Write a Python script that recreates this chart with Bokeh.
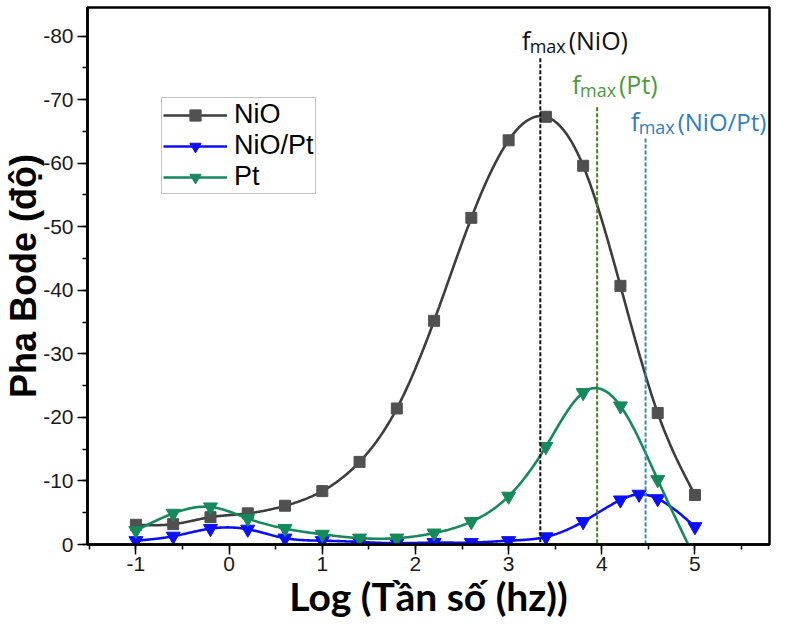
import numpy as np
from bokeh.plotting import figure
from bokeh.models import Range1d, FixedTicker, Label, Legend, LegendItem
from bokeh.embed import file_html
from bokeh.resources import INLINE

# ---------------- data ----------------
nio_x = [-1.0, -0.6, -0.2, 0.2, 0.6, 1.0, 1.4, 1.8, 2.2, 2.6, 3.0, 3.4, 3.8, 4.2, 4.6, 5.0]
nio_y = [-3.1, -3.2, -4.3, -4.9, -6.1, -8.4, -13.0, -21.4, -35.2, -51.4, -63.6, -67.3, -59.6, -40.7, -20.7, -7.8]

niopt_x = [-1.0, -0.6, -0.2, 0.2, 0.6, 1.0, 1.4, 1.8, 2.2, 2.6, 3.0, 3.4, 3.8, 4.2, 4.4, 4.6, 5.0]
niopt_y = [-0.6, -1.3, -2.5, -2.4, -1.0, -0.6, -0.4, -0.2, -0.3, -0.3, -0.6, -1.2, -3.6, -7.0, -7.9, -7.2, -2.8]

pt_x = [-1.0, -0.6, -0.2, 0.2, 0.6, 1.0, 1.4, 1.8, 2.2, 2.6, 3.0, 3.4, 3.8, 4.2, 4.6, 5.0]
pt_y = [-2.2, -4.9, -5.9, -4.1, -2.5, -1.6, -1.0, -1.0, -1.8, -3.6, -7.6, -15.4, -23.9, -21.8, -10.2, 2.2]

series_names = ["NiO", "NiO/Pt", "Pt"]

x_ticks = [-1, 0, 1, 2, 3, 4, 5]
x_tick_labels = ["-1", "0", "1", "2", "3", "4", "5"]
y_ticks = [0, -10, -20, -30, -40, -50, -60, -70, -80]
y_tick_labels = ["0", "-10", "-20", "-30", "-40", "-50", "-60", "-70", "-80"]

# f_max markers
fmax_names = ["(NiO)", "(Pt)", "(NiO/Pt)"]
fmax_x = [3.34, 3.95, 4.47]
fmax_top = [-76.5, -68.8, -63.9]
fmax_text_y = [-79.4, -72.4, -66.6]
fmax_text_x = [3.14, 3.68, 4.31]
fmax_name_sizes = ["25px", "25px", "24px"]
fmax_colors = ["#111111", "#4e9a3c", "#2f7fbf"]
fmax_line_colors = ["#111111", "#4f7a22", "#3b86bd"]


def natural_spline(x, y, n=600):
    x = np.asarray(x, float)
    y = np.asarray(y, float)
    m = len(x)
    h = np.diff(x)
    A = np.zeros((m, m))
    b = np.zeros(m)
    A[0, 0] = 1.0
    A[-1, -1] = 1.0
    for i in range(1, m - 1):
        A[i, i - 1] = h[i - 1]
        A[i, i] = 2 * (h[i - 1] + h[i])
        A[i, i + 1] = h[i]
        b[i] = 3 * ((y[i + 1] - y[i]) / h[i] - (y[i] - y[i - 1]) / h[i - 1])
    c = np.linalg.solve(A, b)
    bb = (y[1:] - y[:-1]) / h - h * (2 * c[:-1] + c[1:]) / 3
    d = (c[1:] - c[:-1]) / (3 * h)
    xs = np.linspace(x[0], x[-1], n)
    idx = np.clip(np.searchsorted(x, xs, side="right") - 1, 0, m - 2)
    dx = xs - x[idx]
    ys = y[idx] + bb[idx] * dx + c[idx] * dx ** 2 + d[idx] * dx ** 3
    return xs, ys


p = figure(width=771, height=621, output_backend="svg", toolbar_location=None,
           x_range=Range1d(-1.52, 5.80), y_range=Range1d(0, -84.5),
           min_border_left=86, min_border_right=2, min_border_top=7, min_border_bottom=10)

p.grid.visible = False
p.background_fill_color = "white"
p.border_fill_color = "white"
p.outline_line_color = "black"
p.outline_line_width = 2.5

# axes
p.xaxis.ticker = FixedTicker(ticks=x_ticks, minor_ticks=[v / 2 for v in range(-3, 12)])
p.yaxis.ticker = FixedTicker(ticks=y_ticks, minor_ticks=[-5 * k for k in range(0, 17)])
p.xaxis.major_label_overrides = dict(zip(x_ticks, x_tick_labels))
p.yaxis.major_label_overrides = dict(zip(y_ticks, y_tick_labels))
for ax in (p.xaxis[0], p.yaxis[0]):
    ax.axis_line_width = 2.5
    ax.axis_line_color = "black"
    ax.major_tick_in = 0
    ax.major_tick_out = 10
    ax.minor_tick_in = 0
    ax.minor_tick_out = 5
    ax.major_tick_line_width = 1.5
    ax.minor_tick_line_width = 1.5
    ax.major_label_text_font = "Liberation Sans"
    ax.major_label_text_font_size = "21px"
    ax.major_label_text_color = "#1a1a1a"

p.xaxis.axis_label = "Log (Tần số (hz))"
p.xaxis.axis_label_text_font = "Lato"
p.xaxis.axis_label_text_font_size = "39px"
p.xaxis.axis_label_text_font_style = "bold"
p.xaxis.axis_label_text_color = "black"
p.xaxis.axis_label_standoff = -1
p.xaxis.major_label_standoff = 2

p.yaxis.axis_label = "Pha Bode (độ)"
p.yaxis.axis_label_text_font = "Liberation Sans"
p.yaxis.axis_label_text_font_size = "36px"
p.yaxis.axis_label_text_font_style = "bold"
p.yaxis.axis_label_text_color = "black"
p.yaxis.axis_label_standoff = -4
p.yaxis.major_label_standoff = 4

# series
colors_line = ["#3d3d3d", "#0a10f5", "#15895b"]
colors_mark = ["#505050", "#0a10f5", "#15895b"]
markers = ["square", "inverted_triangle", "inverted_triangle"]
sizes = [11, 14, 14]
xs_list = [nio_x, niopt_x, pt_x]
ys_list = [nio_y, niopt_y, pt_y]

items = []
for name, xx, yy, lc, mc, mk, sz in zip(series_names, xs_list, ys_list, colors_line, colors_mark, markers, sizes):
    sx, sy = natural_spline(xx, yy)
    r_line = p.line(sx, sy, line_color=lc, line_width=2.6)
    r_mark = p.scatter(xx, yy, marker=mk, size=sz, fill_color=mc, line_color=mc)
    items.append(LegendItem(label=name, renderers=[r_line, r_mark]))

# f_max dashed lines
for fx, ft, fc in zip(fmax_x, fmax_top, fmax_line_colors):
    p.segment(x0=[fx], y0=[ft], x1=[fx], y1=[0], line_color=fc, line_width=2, line_dash="4 2")

# f_max labels
for tx, ty, name, col, fs in zip(fmax_text_x, fmax_text_y, fmax_names, fmax_colors, fmax_name_sizes):
    p.add_layout(Label(x=tx, y=ty, x_units="data", y_units="data", text="f",
                       text_font="Open Sans", text_font_size="26px", text_color=col,
                       text_baseline="alphabetic"))
    p.add_layout(Label(x=tx, y=ty, x_units="data", y_units="data", text="max",
                       x_offset=8, y_offset=-6,
                       text_font="Open Sans", text_font_size="18px", text_color=col,
                       text_baseline="alphabetic"))
    p.add_layout(Label(x=tx, y=ty, x_units="data", y_units="data", text=name,
                       x_offset=47,
                       text_font="Open Sans", text_font_size=fs, text_color=col,
                       text_baseline="alphabetic"))

legend = Legend(items=items, location=(74, 350))
legend.label_text_font = "Liberation Sans"
legend.label_text_font_size = "27px"
legend.label_text_color = "black"
legend.glyph_width = 64
legend.glyph_height = 28
legend.label_height = 28
legend.label_standoff = 7
legend.spacing = 0
legend.padding = 1
legend.margin = 0
legend.border_line_color = "#888888"
legend.border_line_width = 1.5
legend.background_fill_alpha = 1.0
p.add_layout(legend)

open("out.html", "w").write(file_html(p, INLINE))
